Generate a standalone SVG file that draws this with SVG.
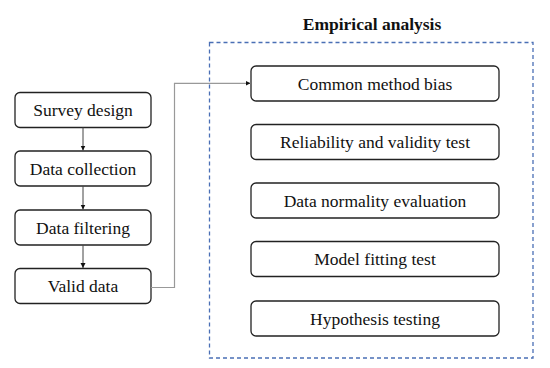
<svg xmlns="http://www.w3.org/2000/svg" width="550" height="368" viewBox="0 0 550 368">
<style>
.box{fill:#fff;stroke:#222;stroke-width:1.3}
.t{font-size:17.5px;fill:#111;text-anchor:middle}
.title{font-weight:bold}
.c{fill:none;stroke:#444;stroke-width:1}
.cg{fill:none;stroke:#999;stroke-width:1.2}
</style>
<defs>
<marker id="ah" markerWidth="6" markerHeight="6" refX="5" refY="3" orient="auto" markerUnits="userSpaceOnUse">
<path d="M0,0.5 L5,3 L0,5.5 Z" fill="#111"/>
</marker>
</defs>
<rect width="550" height="368" fill="#fff"/>
<g font-family="Liberation Serif, Times New Roman, DejaVu Serif, serif">
<g id="group-empirical">
<rect x="209.5" y="42.5" width="323.5" height="315.5" fill="none" stroke="#4a6fb5" stroke-width="1.3" stroke-dasharray="4,3"/>
<text class="t title" x="372" y="30">Empirical analysis</text>
</g>
<g id="n-survey"><rect class="box" x="15" y="92.5" width="136" height="35" rx="5"/><text class="t" x="83" y="116">Survey design</text></g>
<g id="n-collection"><rect class="box" x="15" y="151" width="136" height="35" rx="5"/><text class="t" x="83" y="174.5">Data collection</text></g>
<g id="n-filtering"><rect class="box" x="15" y="210" width="136" height="35" rx="5"/><text class="t" x="83" y="233.5">Data filtering</text></g>
<g id="n-valid"><rect class="box" x="15" y="268.5" width="136" height="35" rx="5"/><text class="t" x="83" y="292">Valid data</text></g>
<g id="n-cmb"><rect class="box" x="251" y="66" width="248" height="35" rx="5"/><text class="t" x="375" y="89.5">Common method bias</text></g>
<g id="n-rel"><rect class="box" x="251" y="124.5" width="248" height="35" rx="5"/><text class="t" x="375" y="148">Reliability and validity test</text></g>
<g id="n-norm"><rect class="box" x="251" y="183" width="248" height="35" rx="5"/><text class="t" x="375" y="206.5">Data normality evaluation</text></g>
<g id="n-fit"><rect class="box" x="251" y="241.5" width="248" height="35" rx="5"/><text class="t" x="375" y="265">Model fitting test</text></g>
<g id="n-hyp"><rect class="box" x="251" y="301" width="248" height="35" rx="5"/><text class="t" x="375" y="324.5">Hypothesis testing</text></g>
</g>
<g id="connectors">
<line class="c" x1="83" y1="127.5" x2="83" y2="150.5" marker-end="url(#ah)"/>
<line class="c" x1="83" y1="186" x2="83" y2="209.5" marker-end="url(#ah)"/>
<line class="c" x1="83" y1="245" x2="83" y2="268" marker-end="url(#ah)"/>
<polyline class="cg" points="151,287.5 174.5,287.5 174.5,83.3 250.5,83.3" marker-end="url(#ah)"/>
</g>
</svg>
